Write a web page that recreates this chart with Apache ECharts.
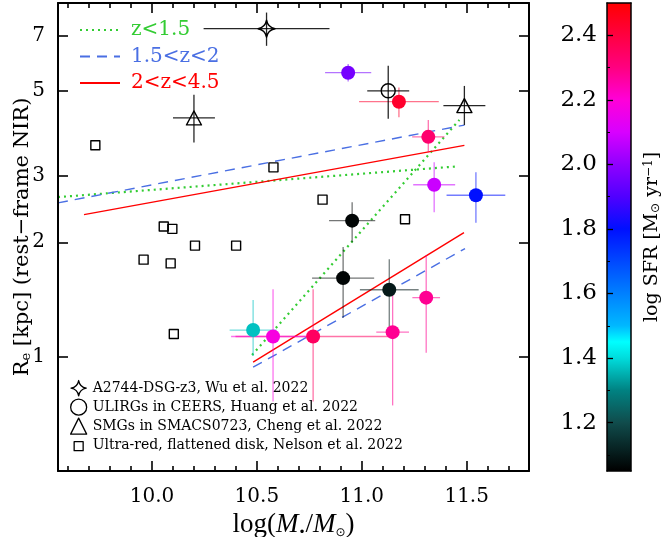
<!DOCTYPE html>
<html>
<head>
<meta charset="utf-8">
<script src="https://cdn.jsdelivr.net/npm/echarts@6/dist/echarts.min.js"></script>
<style>
  html, body { margin: 0; padding: 0; background: #fff; }
  #chart { width: 664px; height: 537px; }
</style>
</head>
<body>
<div id="chart"></div>
<script>
// ---- data ----
// SFR-coloured sample: log(M*/Msun), Re [kpc] with error ends, log SFR
const sfrMass    = [10.935, 11.177, 11.317, 11.345, 11.544, 10.954, 10.911, 11.131, 11.307, 11.147, 10.768, 10.577, 10.482]
const sfrMassErr = [0.11, 0.19, 0.077, 0.10, 0.14, 0.11, 0.148, 0.14, 0.066, 0.078, 0.37, 0.20, 0.112]
const sfrRe      = [5.59, 4.69, 3.79, 2.835, 2.66, 2.28, 1.61, 1.50, 1.43, 1.16, 1.13, 1.13, 1.175]
const sfrReLo    = [5.30, 4.27, 3.45, 2.40, 2.25, 2.00, 1.266, 1.154, 1.024, 0.744, 0.762, 0.762, 1.004]
const sfrReHi    = [5.89, 5.11, 4.20, 3.25, 3.06, 2.55, 1.944, 1.804, 1.849, 1.496, 1.505, 1.505, 1.409]
const sfrLog     = [1.96, 2.43, 2.33, 2.08, 1.80, 1.06, 1.06, 1.10, 2.28, 2.28, 2.35, 2.18, 1.37]

// literature points
const starMass = [10.546], starMassErr = [0.30], starRe = [7.30], starReLo = [6.58], starReHi = [8.05]
const circMass = [11.126], circMassErr = [0.10], circRe = [5.01], circReLo = [4.23], circReHi = [5.83]
const triMass = [10.20, 11.489], triMassErr = [0.10, 0.10], triRe = [4.25, 4.58], triReLo = [3.66, 4.07], triReHi = [4.89, 5.16]
const sqMass = [9.730, 10.579, 10.813, 10.056, 10.097, 10.205, 10.401, 9.960, 10.089, 11.206, 10.104]
const sqRe   = [3.60, 3.15, 2.59, 2.20, 2.17, 1.96, 1.96, 1.80, 1.76, 2.30, 1.147]

// size-mass relations, two segments per redshift bin: [mass, Re]
const fitLowZ  = [[[9.552, 2.63], [11.46, 3.17]], [[10.477, 1.01], [11.465, 4.20]]]
const fitMidZ  = [[[9.552, 2.54], [11.489, 4.07]], [[10.482, 0.938], [11.492, 1.925]]]
const fitHighZ = [[[9.676, 2.365], [11.489, 3.60]], [[10.482, 0.967], [11.487, 2.12]]]
const fitNames = ['z<1.5', '1.5<z<2', '2<z<4.5']
const fitColors = ['#33cc33', '#4a6fe3', '#ff0000']

const markerNames = [
  'A2744-DSG-z3, Wu et al. 2022',
  'ULIRGs in CEERS, Huang et al. 2022',
  'SMGs in SMACS0723, Cheng et al. 2022',
  'Ultra-red, flattened disk, Nelson et al. 2022'
]

// axes
const xMin = 9.552, xMax = 11.797
const yMinRe = 0.5, yMaxRe = 8.53
const xMajor = [10.0, 10.5, 11.0, 11.5]
const xMinor = [9.6, 9.7, 9.8, 9.9, 10.1, 10.2, 10.3, 10.4, 10.6, 10.7, 10.8, 10.9, 11.1, 11.2, 11.3, 11.4, 11.6, 11.7]
const yLabels = [1, 2, 3, 5, 7]

// colour bar
const cbMin = 1.05, cbMax = 2.5
const cbMajor = [1.2, 1.4, 1.6, 1.8, 2.0, 2.2, 2.4]
const cbMinor = [1.1, 1.3, 1.5, 1.7, 1.9, 2.1, 2.3]
const cmapVals = [1.05, 1.2, 1.3, 1.4, 1.45, 1.5, 1.6, 1.7, 1.8, 1.9, 2.0, 2.1, 2.2, 2.3, 2.4, 2.5]
const cmapCols = ['#000000', '#104c4c', '#008282', '#00dcdc', '#00ffff', '#00b8ff', '#0080ff', '#0048ff',
  '#0010ff', '#5000ff', '#9000ff', '#d800ff', '#ff00d8', '#ff0080', '#ff0040', '#ff0000']

// ---- helpers ----
const lg = Math.log10
const FONT = 'DejaVu Serif'

const hexRgb = (h) => [1, 3, 5].map(i => parseInt(h.substr(i, 2), 16))
const cmapAt = (v) => {
  for (let i = 1; i < cmapVals.length; i++) {
    if (v <= cmapVals[i] + 1e-9) {
      const t = (v - cmapVals[i - 1]) / (cmapVals[i] - cmapVals[i - 1])
      const a = hexRgb(cmapCols[i - 1]), b = hexRgb(cmapCols[i])
      return 'rgb(' + a.map((c, k) => Math.round(c + (b[k] - c) * t)).join(',') + ')'
    }
  }
  return cmapCols[cmapCols.length - 1]
}
const vmColors = []
for (let k = 0; k <= 58; k++) vmColors.push(cmapAt(cbMin + (cbMax - cbMin) * k / 58))
const cbStops = cmapVals.map((v, i) => ({ offset: (v - cbMin) / (cbMax - cbMin), color: cmapCols[i] }))

const sfrData = sfrMass.map((m, i) => [m, lg(sfrRe[i]), sfrLog[i]])
const sfrErrData = sfrMass.map((m, i) => [m, lg(sfrRe[i]), sfrLog[i],
  m - sfrMassErr[i], m + sfrMassErr[i], lg(sfrReLo[i]), lg(sfrReHi[i])])

const openErrData = []
;[[starMass, starMassErr, starRe, starReLo, starReHi],
  [circMass, circMassErr, circRe, circReLo, circReHi],
  [triMass, triMassErr, triRe, triReLo, triReHi]].forEach(([m, me, r, rl, rh]) => {
  m.forEach((x, i) => openErrData.push([x, lg(r[i]), 0, x - me[i], x + me[i], lg(rl[i]), lg(rh[i])]))
})

const toXY = (ms, rs) => ms.map((m, i) => [m, lg(rs[i])])

// error bar drawing
const errRender = (opacity) => (params, api) => {
  const x = api.value(0), y = api.value(1)
  const a = api.coord([api.value(3), y]), b = api.coord([api.value(4), y])
  const c = api.coord([x, api.value(5)]), d = api.coord([x, api.value(6)])
  const style = { stroke: api.visual('color'), lineWidth: 1.3, opacity: opacity }
  return {
    type: 'group',
    children: [
      { type: 'line', shape: { x1: a[0], y1: a[1], x2: b[0], y2: b[1] }, style: style },
      { type: 'line', shape: { x1: c[0], y1: c[1], x2: d[0], y2: d[1] }, style: style }
    ]
  }
}

const starPath = 'path://M0,-10 Q1.5,-1.5 10,0 Q1.5,1.5 0,10 Q-1.5,1.5 -10,0 Q-1.5,-1.5 0,-10 Z'
const starIcon = 'path://M-10.5,-10.5 M0,-10 Q1.5,-1.5 10,0 Q1.5,1.5 0,10 Q-1.5,1.5 -10,0 Q-1.5,-1.5 0,-10 Z M10.5,10.5'
const sqIcon = 'path://M-8,-8 M-4.5,-3.5 L4.5,-3.5 L4.5,5.5 L-4.5,5.5 Z M8,8'
const openStyle = { color: 'rgba(255,255,255,0)', borderColor: '#000', borderWidth: 1.4, borderJoin: 'round', opacity: 1 }

const fitSeries = []
;[fitLowZ, fitMidZ, fitHighZ].forEach((segs, k) => {
  const dash = [[2, 4], [10, 7], 'solid'][k]
  segs.forEach(seg => {
    fitSeries.push({
      name: fitNames[k], type: 'line', xAxisIndex: 0, yAxisIndex: 0,
      data: seg.map(p => [p[0], lg(p[1])]),
      symbol: 'none', showSymbol: false, silent: true, z: 2,
      lineStyle: { color: fitColors[k], width: k === 0 ? 2.2 : 1.4, type: dash },
      itemStyle: { color: fitColors[k] }
    })
  })
})

const majorTickStyle = { color: '#000', width: 1.6 }
const boxLine = { show: true, onZero: false, lineStyle: { color: '#000', width: 2 } }
const mainX = (pos, ticks, len, showLine) => ({
  type: 'value', gridIndex: 0, position: pos, min: xMin, max: xMax,
  axisLine: showLine ? boxLine : { show: false, onZero: false },
  axisTick: { show: true, inside: true, length: len, customValues: ticks, lineStyle: majorTickStyle },
  axisLabel: { show: false }, splitLine: { show: false }, z: 5
})

const chart = echarts.init(document.getElementById('chart'))
chart.setOption({
  animation: false,
  backgroundColor: '#fff',
  grid: [
    { left: 58, right: 135, top: 3, bottom: 66, containLabel: false, outerBoundsMode: 'none' },
    { left: 607, width: 24, top: 3, bottom: 66, containLabel: false, outerBoundsMode: 'none' }
  ],
  xAxis: [
    Object.assign(mainX('bottom', xMajor, 10, true), {
      axisLabel: {
        show: true, customValues: xMajor, margin: 16, color: '#000',
        fontFamily: FONT, fontSize: 20, formatter: (v) => v.toFixed(1)
      },
      name: '{n|log(}{i|M}{d|•}{n|/}{i|M}{d|⊙}{n|)}',
      nameLocation: 'middle', nameGap: 33,
      nameTextStyle: {
        rich: {
          n: { fontFamily: 'Liberation Serif', fontSize: 27, color: '#000' },
          i: { fontFamily: 'Liberation Serif', fontSize: 27, fontStyle: 'italic', color: '#000' },
          d: { fontFamily: 'DejaVu Sans', fontSize: 12, color: '#000', verticalAlign: 'bottom' }
        }
      }
    }),
    mainX('bottom', xMinor, 5, false),
    mainX('top', xMajor, 10, true),
    mainX('top', xMinor, 5, false),
    { type: 'value', gridIndex: 1, position: 'bottom', min: 0, max: 1, z: 5,
      axisLine: { show: true, onZero: false, lineStyle: { color: '#000', width: 1.5 } },
      axisTick: { show: false }, axisLabel: { show: false }, splitLine: { show: false } },
    { type: 'value', gridIndex: 1, position: 'top', min: 0, max: 1, z: 5,
      axisLine: { show: true, onZero: false, lineStyle: { color: '#000', width: 1.5 } },
      axisTick: { show: false }, axisLabel: { show: false }, splitLine: { show: false } }
  ],
  yAxis: [
    { type: 'value', gridIndex: 0, position: 'left', min: lg(yMinRe), max: lg(yMaxRe), z: 5,
      axisLine: boxLine,
      axisTick: { show: true, inside: true, length: 10, customValues: yLabels.map(lg), lineStyle: majorTickStyle },
      axisLabel: {
        show: true, customValues: yLabels.map(lg), margin: 13, color: '#000',
        fontFamily: FONT, fontSize: 20, formatter: (v) => String(Math.round(Math.pow(10, v)))
      },
      splitLine: { show: false },
      name: '{n|R}{s|e}{n| [kpc] (rest−frame NIR)}',
      nameLocation: 'middle', nameGap: 25, nameRotate: 90, nameMoveOverlap: false,
      nameTextStyle: {
        rich: {
          n: { fontFamily: FONT, fontSize: 21, color: '#000' },
          s: { fontFamily: FONT, fontSize: 13, color: '#000', verticalAlign: 'bottom' }
        }
      }
    },
    { type: 'value', gridIndex: 0, position: 'right', min: lg(yMinRe), max: lg(yMaxRe), z: 5,
      axisLine: boxLine,
      axisTick: { show: true, inside: true, length: 10, customValues: yLabels.map(lg), lineStyle: majorTickStyle },
      axisLabel: { show: false }, splitLine: { show: false } },
    { type: 'value', gridIndex: 1, position: 'left', min: cbMin, max: cbMax, z: 5,
      axisLine: { show: true, onZero: false, lineStyle: { color: '#000', width: 1.5 } },
      axisTick: { show: true, inside: true, length: 6, customValues: cbMajor, lineStyle: { color: '#000', width: 1.3 } },
      axisLabel: {
        show: true, customValues: cbMajor, margin: 10, color: '#000',
        fontFamily: FONT, fontSize: 23, formatter: (v) => v.toFixed(1)
      },
      splitLine: { show: false } },
    { type: 'value', gridIndex: 1, position: 'left', min: cbMin, max: cbMax, z: 5,
      axisLine: { show: false, onZero: false },
      axisTick: { show: true, inside: true, length: 3, customValues: cbMinor, lineStyle: { color: '#000', width: 1 } },
      axisLabel: { show: false }, splitLine: { show: false } },
    { type: 'value', gridIndex: 1, position: 'right', min: cbMin, max: cbMax, z: 5,
      axisLine: { show: true, onZero: false, lineStyle: { color: '#000', width: 1.5 } },
      axisTick: { show: false }, axisLabel: { show: false }, splitLine: { show: false },
      name: '{n|log SFR [M}{s|⊙}{n| yr}{p|−1}{n|]}',
      nameLocation: 'middle', nameGap: 12, nameRotate: 90,
      nameTextStyle: {
        rich: {
          n: { fontFamily: FONT, fontSize: 19, color: '#000' },
          s: { fontFamily: 'DejaVu Sans', fontSize: 12, color: '#000', verticalAlign: 'bottom' },
          p: { fontFamily: FONT, fontSize: 12, color: '#000', verticalAlign: 'top' }
        }
      }
    }
  ],
  visualMap: {
    type: 'continuous', show: false, min: cbMin, max: cbMax, dimension: 2,
    seriesIndex: [0, 1], inRange: { color: vmColors }
  },
  legend: [
    {
      left: 79, top: 20, padding: 0, orient: 'vertical', itemWidth: 40, itemHeight: 14, itemGap: 6.5,
      selectedMode: false,
      data: fitNames.map((n, k) => ({
        name: n,
        itemStyle: { color: 'rgba(0,0,0,0)', borderWidth: 0, opacity: 0 },
        textStyle: { color: fitColors[k] }
      })),
      textStyle: { fontFamily: FONT, fontSize: 20, padding: [0, 0, 0, 6] }
    },
    {
      left: 70, top: 379.5, padding: 0, orient: 'vertical', itemWidth: 16, itemHeight: 16, itemGap: 1.7,
      selectedMode: false,
      itemStyle: { borderWidth: 1.3, borderJoin: 'round' },
      data: [
        { name: markerNames[0], icon: starIcon },
        { name: markerNames[1], icon: 'circle' },
        { name: markerNames[2], icon: 'triangle' },
        { name: markerNames[3], icon: sqIcon }
      ],
      textStyle: { fontFamily: FONT, fontSize: 14, color: '#000', padding: [0, 0, 0, 1] }
    }
  ],
  series: [
    { type: 'custom', name: 'sfrErr', xAxisIndex: 0, yAxisIndex: 0, z: 3, silent: true,
      renderItem: errRender(0.55), encode: { x: 0, y: 1 }, data: sfrErrData },
    { type: 'scatter', name: 'sfrPts', xAxisIndex: 0, yAxisIndex: 0, z: 4, silent: true,
      symbol: 'circle', symbolSize: 14, itemStyle: { opacity: 1 }, encode: { x: 0, y: 1 }, data: sfrData },
    { type: 'custom', name: 'openErr', xAxisIndex: 0, yAxisIndex: 0, z: 3, silent: true,
      itemStyle: { color: '#000' },
      renderItem: errRender(0.85), encode: { x: 0, y: 1 }, data: openErrData },
    { type: 'scatter', name: markerNames[0], xAxisIndex: 0, yAxisIndex: 0, z: 4, silent: true,
      symbol: starPath, symbolSize: 17, itemStyle: openStyle, data: toXY(starMass, starRe) },
    { type: 'scatter', name: markerNames[1], xAxisIndex: 0, yAxisIndex: 0, z: 4, silent: true,
      symbol: 'circle', symbolSize: 14, itemStyle: openStyle, data: toXY(circMass, circRe) },
    { type: 'scatter', name: markerNames[2], xAxisIndex: 0, yAxisIndex: 0, z: 4, silent: true,
      symbol: 'triangle', symbolSize: [15, 14], itemStyle: openStyle, data: toXY(triMass, triRe) },
    { type: 'scatter', name: markerNames[3], xAxisIndex: 0, yAxisIndex: 0, z: 4, silent: true,
      symbol: 'rect', symbolSize: 9, itemStyle: openStyle, data: toXY(sqMass, sqRe) },
    ...fitSeries,
    { type: 'custom', name: 'colorbar', xAxisIndex: 4, yAxisIndex: 2, z: 1, silent: true,
      data: [[0, cbMin]],
      renderItem: (params, api) => {
        const p0 = api.coord([0, cbMax]), p1 = api.coord([1, cbMin])
        return {
          type: 'rect',
          shape: { x: p0[0], y: p0[1], width: p1[0] - p0[0], height: p1[1] - p0[1] },
          style: { fill: new echarts.graphic.LinearGradient(0, 1, 0, 0, cbStops) }
        }
      } }
  ]
})
</script>
</body>
</html>
